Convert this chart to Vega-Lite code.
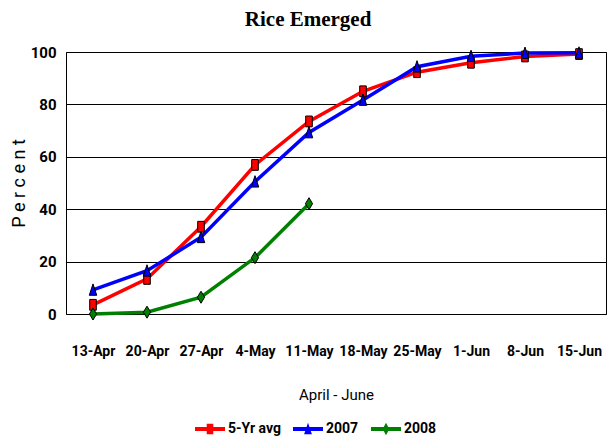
{
  "$schema": "https://vega.github.io/schema/vega-lite/v6.json",
  "width": 540,
  "height": 262,
  "autosize": {"type": "none"},
  "padding": {"left": 66, "top": 52, "right": 7, "bottom": 130},
  "background": "white",
  "title": {"text": "Rice Emerged", "font": "Liberation Serif", "fontSize": 21, "fontWeight": "bold", "color": "black", "anchor": "middle", "frame": "bounds", "baseline": "bottom", "offset": -6},
  "config": {"view": {"stroke": "black", "strokeWidth": 1}},
  "data": {"values": [
    {"series": "5-Yr avg", "week": "13-Apr", "pct": 3.5},
    {"series": "5-Yr avg", "week": "20-Apr", "pct": 13.4},
    {"series": "5-Yr avg", "week": "27-Apr", "pct": 33.3},
    {"series": "5-Yr avg", "week": "4-May", "pct": 56.9},
    {"series": "5-Yr avg", "week": "11-May", "pct": 73.5},
    {"series": "5-Yr avg", "week": "18-May", "pct": 85},
    {"series": "5-Yr avg", "week": "25-May", "pct": 92.3},
    {"series": "5-Yr avg", "week": "1-Jun", "pct": 95.9},
    {"series": "5-Yr avg", "week": "8-Jun", "pct": 98.3},
    {"series": "5-Yr avg", "week": "15-Jun", "pct": 99.2},
    {"series": "2007", "week": "13-Apr", "pct": 9.2},
    {"series": "2007", "week": "20-Apr", "pct": 16.5},
    {"series": "2007", "week": "27-Apr", "pct": 29.3},
    {"series": "2007", "week": "4-May", "pct": 50.5},
    {"series": "2007", "week": "11-May", "pct": 69.3},
    {"series": "2007", "week": "18-May", "pct": 81.7},
    {"series": "2007", "week": "25-May", "pct": 94.4},
    {"series": "2007", "week": "1-Jun", "pct": 98.4},
    {"series": "2007", "week": "8-Jun", "pct": 99.6},
    {"series": "2007", "week": "15-Jun", "pct": 99.7},
    {"series": "2008", "week": "13-Apr", "pct": 0},
    {"series": "2008", "week": "20-Apr", "pct": 0.7},
    {"series": "2008", "week": "27-Apr", "pct": 6.4},
    {"series": "2008", "week": "4-May", "pct": 21.5},
    {"series": "2008", "week": "11-May", "pct": 42.1}
  ]},
  "encoding": {
    "x": {
      "field": "week", "type": "ordinal",
      "sort": ["13-Apr", "20-Apr", "27-Apr", "4-May", "11-May", "18-May", "25-May", "1-Jun", "8-Jun", "15-Jun"],
      "scale": {"type": "point", "padding": 0.5},
      "axis": {
        "title": "April - June", "labelAngle": 0, "ticks": false, "domain": false, "grid": false,
        "labelPadding": 30, "labelFont": "Roboto", "labelFontSize": 14, "labelFontWeight": "bold", "labelColor": "black",
        "titleFont": "Roboto", "titleFontSize": 15, "titleFontWeight": "normal", "titleColor": "black", "titlePadding": 29
      }
    },
    "y": {
      "field": "pct", "type": "quantitative",
      "scale": {"domain": [0, 100], "nice": false},
      "axis": {
        "title": "P\u00a0e\u00a0r\u00a0c\u00a0e\u00a0n\u00a0t",
        "values": [0, 20, 40, 60, 80, 100], "ticks": false, "domain": false,
        "grid": true, "gridColor": "black", "gridOpacity": 1, "gridWidth": 1,
        "labelPadding": 10, "labelFont": "Roboto", "labelFontSize": 15, "labelFontWeight": "bold", "labelColor": "black",
        "titleFont": "Roboto", "titleFontSize": 18, "titleFontWeight": "normal", "titleColor": "black", "titlePadding": 2
      }
    },
    "color": {
      "field": "series", "type": "nominal",
      "scale": {"domain": ["5-Yr avg", "2007", "2008"], "range": ["#FF0000", "#0000FF", "#008000"]},
      "legend": {
        "orient": "none", "legendX": 129, "legendY": 362, "direction": "horizontal", "title": null,
        "symbolSize": 900, "labelFont": "Roboto", "labelFontSize": 14, "labelFontWeight": "bold", "labelColor": "black",
        "labelOffset": 3, "columnPadding": 12,
        "encode": {
          "symbols": {
            "update": {
              "shape": {"signal": "datum.value == '5-Yr avg' ? 'M-1,-0.13H1V0.13H-1Z M-0.22,-0.35H0.22V0.35H-0.22Z' : datum.value == '2007' ? 'M-1,-0.13H1V0.13H-1Z M0,-0.42L0.26,0.35H-0.26Z' : 'M-1,-0.13H1V0.13H-1Z M0,-0.42L0.22,0L0,0.42L-0.22,0Z'"},
              "fill": {"scale": "color", "field": "value"},
              "fillOpacity": {"value": 1},
              "strokeWidth": {"value": 0},
              "opacity": {"value": 1}
            }
          }
        }
      }
    }
  },
  "layer": [
    {"mark": {"type": "line", "strokeWidth": 3.5}},
    {
      "transform": [{"filter": "datum.series == '5-Yr avg'"}],
      "mark": {"type": "point", "filled": true, "stroke": "black", "strokeWidth": 1, "size": 144, "opacity": 1, "fillOpacity": 1, "shape": "M-0.55,-0.9H0.55V0.9H-0.55Z"}
    },
    {
      "transform": [{"filter": "datum.series == '2007'"}],
      "mark": {"type": "point", "filled": true, "stroke": "black", "strokeWidth": 1, "size": 144, "opacity": 1, "fillOpacity": 1, "shape": "M0,-1L0.62,0.9H-0.62Z"}
    },
    {
      "transform": [{"filter": "datum.series == '2008'"}],
      "mark": {"type": "point", "filled": true, "stroke": "black", "strokeWidth": 1, "size": 144, "opacity": 1, "fillOpacity": 1, "shape": "M0,-1L0.6,0L0,1L-0.6,0Z"}
    }
  ]
}
